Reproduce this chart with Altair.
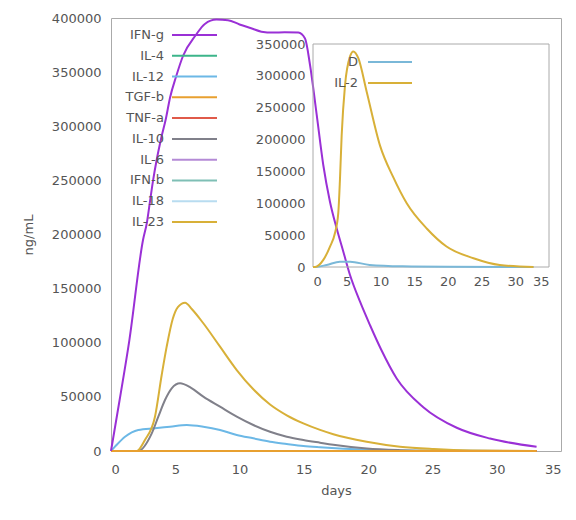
import altair as alt
import pandas as pd

# ---------------- data ----------------
series_names = ["IFN-g", "IL-4", "IL-12", "TGF-b", "TNF-a", "IL-10", "IL-6", "IFN-b", "IL-18", "IL-23"]
series_colors = ["#9a30d6", "#3cb58a", "#6cb8e6", "#e8a030", "#e05a4a", "#80808a", "#b48ad6", "#7fbfb5", "#b8dcf0", "#d8b038"]

ifng_day = [0, 0.67, 1.43, 2.49, 2.8, 3.03, 3.27, 3.55, 3.89, 4.28, 4.59, 5.06, 5.6, 6.6, 7.3, 8.2, 9.1,
            10.0, 10.9, 11.7, 12.6, 13.5, 14.57, 15.09, 15.48, 16.0, 16.51, 17.03, 17.55, 18.07, 18.59,
            19.37, 20.14, 21.0, 22.22, 24.29, 26.89, 29.48, 33.1]
ifng_val = [0, 47100, 102500, 194900, 211500, 230300, 249700, 268800, 288200, 307600, 326400, 345800,
            364900, 384300, 394500, 398500, 398000, 394000, 390500, 387400, 386500, 386800, 386500,
            381000, 356600, 310400, 264200, 230300, 205700, 184100, 162600, 137900, 116400, 94000,
            67000, 40500, 21500, 11500, 4000]

il23_day = [0, 2.0, 2.64, 3.42, 3.94, 4.33, 4.8, 5.2, 5.76, 6.3, 7.18, 8.48, 9.78, 11.07, 12.37, 13.67,
            14.96, 16.26, 17.29, 19.89, 22.48, 25.1, 28.0, 33.1]
il23_val = [0, 0, 10200, 31700, 70000, 96400, 122000, 133000, 137000, 131000, 118000, 96400, 74800,
            57000, 43000, 33000, 25500, 19500, 15500, 8600, 4000, 1800, 500, 0]

il10_day = [0, 2.1, 3.17, 3.68, 4.2, 4.72, 5.37, 6.2, 7.18, 8.48, 9.78, 11.07, 12.37, 13.67, 14.96,
            16.26, 17.29, 19.9, 22.5, 25.0, 33.1]
il10_val = [0, 0, 16300, 31700, 47100, 57900, 62500, 58500, 50200, 40900, 31700, 24000, 17800, 13200,
            10200, 7700, 5800, 2300, 800, 200, 0]

il12_day = [0, 0.31, 1.09, 2.12, 3.42, 4.59, 5.89, 7.18, 8.48, 9.78, 11.07, 12.37, 13.67, 14.96, 16.26,
            20.0, 25.0, 33.1]
il12_val = [0, 4000, 13200, 19400, 21000, 22400, 24000, 22400, 19400, 14800, 11700, 8600, 6500, 4600,
            3400, 1200, 300, 0]

zero_day = [0, 33.1]
zero_val = [0, 0]

# inset
inset_names = ["D", "IL-2"]
inset_colors = ["#7ab8d8", "#d8b038"]
il2_day = [0, 0.3, 1.53, 2.52, 3.26, 3.75, 4.0, 4.25, 4.75, 5.49, 5.98, 6.72, 7.96, 9.94, 11.9, 13.9,
           16.9, 19.8, 23.8, 27.7, 32.7]
il2_val = [0, 0, 11100, 32100, 53400, 85000, 137800, 206400, 285500, 330500, 338400, 327800, 275100,
           190500, 141000, 100000, 60000, 32100, 13800, 3200, 0]
d_day = [0, 0.3, 2.03, 4.0, 5.5, 8.4, 13.3, 20.0, 32.7]
d_val = [0, 0, 3200, 8400, 8400, 3200, 1000, 300, 0]

x_ticks = [0, 5, 10, 15, 20, 25, 30, 35]
y_ticks = [0, 50000, 100000, 150000, 200000, 250000, 300000, 350000, 400000]
inset_y_ticks = [0, 50000, 100000, 150000, 200000, 250000, 300000, 350000]

# ---------------- tables ----------------
def long(name, days, vals):
    return pd.DataFrame({"series": name, "day": days, "value": vals})

main_parts = [
    long("IL-4", zero_day, zero_val),
    long("IL-6", zero_day, zero_val),
    long("IFN-b", zero_day, zero_val),
    long("IL-18", zero_day, zero_val),
    long("IL-12", il12_day, il12_val),
    long("IL-10", il10_day, il10_val),
    long("IL-23", il23_day, il23_val),
    long("TNF-a", zero_day, zero_val),
    long("TGF-b", zero_day, zero_val),
    long("IFN-g", ifng_day, ifng_val),
]
df_main = pd.concat(main_parts, ignore_index=True)
df_inset = pd.concat([long("D", d_day, d_val), long("IL-2", il2_day, il2_val)], ignore_index=True)
df_box = pd.DataFrame({"x0": [0], "x1": [35], "y0": [0], "y1": [350000]})
df_leg = pd.DataFrame({"name": series_names})
df_ileg = pd.DataFrame({"name": inset_names})

FONT = "DejaVu Sans"
LC = "#555555"
W, H = 450, 433

# ---------------- main plot ----------------
main_x = alt.X("day:Q", scale=alt.Scale(domain=[0, 35], nice=False),
               axis=alt.Axis(values=x_ticks, title="days", format="d", grid=False, domain=False,
                             ticks=False, labelPadding=12, titlePadding=8))
main_y = alt.Y("value:Q", scale=alt.Scale(domain=[0, 400000], nice=False),
               axis=alt.Axis(values=y_ticks, title="ng/mL", format="d", grid=False, domain=False,
                             ticks=False, labelPadding=10, titlePadding=16))
main_lines = alt.Chart(df_main).mark_line(strokeWidth=2, interpolate="monotone").encode(
    x=main_x, y=main_y,
    color=alt.Color("series:N", scale=alt.Scale(domain=series_names, range=series_colors), legend=None),
    order=alt.Order("day:Q"),
)

# ---------------- inset ----------------
ix_scale = alt.Scale(domain=[0, 35], range=[202, 438], nice=False, zero=False)
iy_scale = alt.Scale(domain=[0, 350000], range=[249, 26], nice=False)
ix_axis = alt.Axis(values=x_ticks, title=None, format="d", grid=False, domain=False, ticks=False,
                   orient="bottom", offset=-184, labelPadding=8)
iy_axis = alt.Axis(values=inset_y_ticks, title=None, format="d", grid=False, domain=False, ticks=False,
                   orient="left", offset=-202, labelPadding=8)

inset_box = alt.Chart(df_box).mark_rect(fillOpacity=0, stroke="#aaaaaa", strokeWidth=1).encode(
    x=alt.X("x0:Q", scale=ix_scale, axis=ix_axis),
    x2="x1:Q",
    y=alt.Y("y0:Q", scale=iy_scale, axis=iy_axis),
    y2="y1:Q",
)
inset_lines = alt.Chart(df_inset).mark_line(strokeWidth=2, interpolate="monotone").encode(
    x=alt.X("day:Q", scale=ix_scale, axis=ix_axis),
    y=alt.Y("value:Q", scale=iy_scale, axis=iy_axis),
    color=alt.Color("series:N", scale=alt.Scale(domain=inset_names, range=inset_colors), legend=None),
    order=alt.Order("day:Q"),
)
inset = alt.layer(inset_box, inset_lines)

# ---------------- keys (gnuplot style: label left, sample right) ----------------
leg_y = alt.Y("name:N", scale=alt.Scale(type="point", domain=series_names, range=[17, 204], padding=0),
              axis=None)
leg_rule = alt.Chart(df_leg).mark_rule(strokeWidth=2).encode(
    x=alt.value(61), x2=alt.value(106), y=leg_y,
    color=alt.Color("name:N", scale=alt.Scale(domain=series_names, range=series_colors), legend=None),
)
leg_text = alt.Chart(df_leg).mark_text(align="right", baseline="middle", font=FONT, fontSize=13,
                                       color=LC).encode(x=alt.value(53), y=leg_y, text="name:N")

ileg_y = alt.Y("name:N", scale=alt.Scale(type="point", domain=inset_names, range=[44, 65], padding=0),
               axis=None)
ileg_rule = alt.Chart(df_ileg).mark_rule(strokeWidth=2).encode(
    x=alt.value(257), x2=alt.value(301), y=ileg_y,
    color=alt.Color("name:N", scale=alt.Scale(domain=inset_names, range=inset_colors), legend=None),
)
ileg_text = alt.Chart(df_ileg).mark_text(align="right", baseline="middle", font=FONT, fontSize=13,
                                         color=LC).encode(x=alt.value(247), y=ileg_y, text="name:N")

chart = alt.layer(
    main_lines, inset, leg_rule, leg_text, ileg_rule, ileg_text
).resolve_scale(
    x="independent", y="independent", color="independent"
).properties(
    width=W, height=H,
    autosize=alt.AutoSizeParams(type="none"),
    padding={"left": 103, "top": 10, "right": 7, "bottom": 60},
    background="white",
).configure_view(
    stroke="#aaaaaa", strokeWidth=1
).configure_axis(
    labelFont=FONT, labelFontSize=13, labelColor=LC, titleFont=FONT, titleFontSize=13,
    titleColor=LC, titleFontWeight="normal"
)

chart.save("out.html", embed_options={"renderer": "svg", "actions": False})
